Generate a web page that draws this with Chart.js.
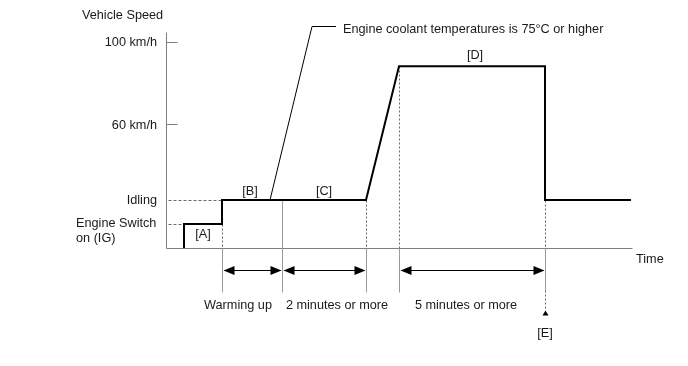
<!DOCTYPE html>
<html>
<head>
<meta charset="utf-8">
<script src="https://cdn.jsdelivr.net/npm/chart.js@4"></script>
<style>
  body { margin: 0; background: #fff; }
  canvas { display: block; }
</style>
</head>
<body>
<canvas id="chart" width="688" height="366"></canvas>
<script>
// time in arbitrary units, speed in km/h
const timeMax = 46.6;
const speedMax = 104.9;

const tOn = 1.8, tIdle = 5.6, tC = 11.6, tRamp = 20.0, tD = 23.3, tE = 37.9, tEnd = 46.5;
const vOn = 11.7, vIdle = 23.3, vD = 88.3;

const profileTime = [tOn, tOn, tIdle, tIdle, tRamp, tD, tE, tE, tEnd];
const profileSpeed = [0, vOn, vOn, vIdle, vIdle, vD, vD, vIdle, vIdle];

const speedTicks = [60, 100];
const speedTickLabels = ['60 km/h', '100 km/h'];

const phaseStart = [tIdle, tC, tD];
const phaseEnd = [tC, tRamp, tE];
const phaseLabels = ['Warming up', '2 minutes or more', '5 minutes or more'];
const phaseLabelAt = [7.2, 17.1, 30.0];

const noteText = 'Engine coolant temperatures is 75°C or higher';
const noteFrom = 10.4; // point on the idling line where the leader starts

const FONT = '12.7px "Liberation Sans", Arial, sans-serif';
const TEXT = '#1a1a1a';

const points = profileTime.map((t, i) => ({ x: t, y: profileSpeed[i] }));

function line(ctx, x1, y1, x2, y2, color, dash) {
    ctx.save();
    ctx.strokeStyle = color;
    ctx.lineWidth = 1;
    ctx.setLineDash(dash || []);
    ctx.beginPath();
    ctx.moveTo(x1, y1);
    ctx.lineTo(x2, y2);
    ctx.stroke();
    ctx.restore();
}

function head(ctx, tipX, tipY, dir, len, half) {
    // dir: 1 = pointing right, -1 = pointing left
    ctx.beginPath();
    ctx.moveTo(tipX, tipY);
    ctx.lineTo(tipX - dir * len, tipY - half);
    ctx.lineTo(tipX - dir * len, tipY + half);
    ctx.closePath();
    ctx.fill();
}

const diagram = {
    id: 'diagram',
    beforeDatasetsDraw(chart) {
        const ctx = chart.ctx;
        const xs = chart.scales.x, ys = chart.scales.y;
        const px = t => Math.round(xs.getPixelForValue(t)) + 0.5;
        const py = v => Math.round(ys.getPixelForValue(v)) + 0.5;
        const left = px(0), bottom = py(0);
        const axisGray = '#7f7f7f', guideGray = '#9a9a9a', dotGray = '#6a6a6a';
        const below = bottom + 44;

        // axes
        line(ctx, left, py(speedMax), left, bottom, axisGray);
        line(ctx, left, bottom, px(timeMax), bottom, axisGray);

        // speed ticks
        speedTicks.forEach(v => line(ctx, left, py(v), left + 11, py(v), axisGray));

        // dashed level guides
        line(ctx, left + 2, py(vIdle), px(tIdle), py(vIdle), dotGray, [3, 2]);
        line(ctx, left + 2, py(vOn), px(tOn), py(vOn), dotGray, [3, 2]);

        // vertical guides
        line(ctx, px(tIdle), py(vOn), px(tIdle), bottom, dotGray, [2, 2]);
        line(ctx, px(tIdle), bottom, px(tIdle), below, guideGray);
        line(ctx, px(tC), py(vIdle), px(tC), below, guideGray);
        line(ctx, px(tRamp), py(vIdle), px(tRamp), bottom, dotGray, [2, 2]);
        line(ctx, px(tRamp), bottom, px(tRamp), below, guideGray);
        line(ctx, px(tD), py(vD), px(tD), bottom, dotGray, [2, 2]);
        line(ctx, px(tD), bottom, px(tD), below, guideGray);
        line(ctx, px(tE), py(vIdle), px(tE), bottom, dotGray, [2, 2]);
        line(ctx, px(tE), bottom, px(tE), below - 2, guideGray);
        line(ctx, px(tE), below - 2, px(tE), below + 18, dotGray, [2, 2]);

        // [E] marker arrow
        ctx.save();
        ctx.fillStyle = '#000';
        ctx.beginPath();
        ctx.moveTo(px(tE), below + 18);
        ctx.lineTo(px(tE) - 3, below + 23);
        ctx.lineTo(px(tE) + 3, below + 23);
        ctx.closePath();
        ctx.fill();
        ctx.restore();

        // phase arrows
        const ay = bottom + 22;
        ctx.save();
        ctx.fillStyle = '#000';
        phaseStart.forEach((t0, i) => {
            const x0 = px(t0), x1 = px(phaseEnd[i]);
            line(ctx, x0 + 2, ay, x1 - 2, ay, '#000');
            head(ctx, x0 + 1, ay, -1, 11, 4.5);
            head(ctx, x1 - 1, ay, 1, 11, 4.5);
        });
        ctx.restore();

        // leader line for the note
        ctx.save();
        ctx.strokeStyle = '#000';
        ctx.lineWidth = 1;
        ctx.beginPath();
        ctx.moveTo(xs.getPixelForValue(noteFrom), ys.getPixelForValue(vIdle));
        ctx.lineTo(312, 26.5);
        ctx.lineTo(336, 26.5);
        ctx.stroke();
        ctx.restore();
    },
    afterDraw(chart) {
        const ctx = chart.ctx;
        const xs = chart.scales.x, ys = chart.scales.y;
        const px = t => xs.getPixelForValue(t);
        const py = v => ys.getPixelForValue(v);
        const left = px(0), bottom = py(0);

        ctx.save();
        ctx.font = FONT;
        ctx.fillStyle = TEXT;
        ctx.textBaseline = 'middle';

        // y axis texts
        ctx.textAlign = 'left';
        ctx.fillText('Vehicle Speed', 82, 15);
        ctx.textAlign = 'right';
        speedTicks.forEach((v, i) => ctx.fillText(speedTickLabels[i], left - 9, py(v) + (v === 60 ? 1 : 0)));
        ctx.fillText('Idling', left - 9, py(vIdle));
        ctx.textAlign = 'left';
        ctx.fillText('Engine Switch', 76, py(vOn));
        ctx.fillText('on (IG)', 76, py(vOn) + 15);

        // x axis title
        ctx.fillText('Time', px(timeMax) + 4, bottom + 11);

        // segment labels
        ctx.textAlign = 'center';
        ctx.fillText('[A]', (px(tOn) + px(tIdle)) / 2, py(vOn / 2) - 1);
        ctx.fillText('[B]', (px(tIdle) + px(tC)) / 2 - 2, py(vIdle) - 9);
        ctx.fillText('[C]', (px(tC) + px(tRamp)) / 2, py(vIdle) - 9);
        ctx.fillText('[D]', (px(tD) + px(tE)) / 2 + 3, py(vD) - 11);
        ctx.fillText('[E]', px(tE), bottom + 85);

        // phase labels
        phaseLabels.forEach((s, i) => ctx.fillText(s, px(phaseLabelAt[i]), bottom + 57));

        // note
        ctx.textAlign = 'left';
        ctx.fillText(noteText, 343, 29);
        ctx.restore();
    }
};

new Chart(document.getElementById('chart'), {
    type: 'line',
    data: {
        datasets: [{
            data: points,
            borderColor: '#000',
            borderWidth: 2,
            pointRadius: 0,
            tension: 0,
            fill: false
        }]
    },
    options: {
        responsive: false,
        animation: false,
        layout: { padding: { left: 166, right: 56, top: 32, bottom: 118 } },
        scales: {
            x: { type: 'linear', min: 0, max: timeMax, display: false },
            y: { type: 'linear', min: 0, max: speedMax, display: false }
        },
        plugins: {
            legend: { display: false },
            tooltip: { enabled: false }
        }
    },
    plugins: [diagram]
});
</script>
</body>
</html>
